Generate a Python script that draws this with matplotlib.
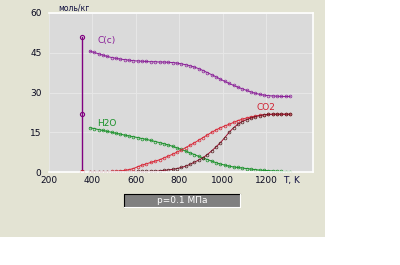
import matplotlib
matplotlib.use("Agg")
import matplotlib.pyplot as plt
from matplotlib.patches import Rectangle

# temperature grid, K
T = list(range(390, 1320, 20))

c_solid = [45.6, 45.1, 44.6, 44.1, 43.6, 43.2, 42.9, 42.6, 42.4, 42.2,
           42.0, 41.9, 41.8, 41.7, 41.6, 41.6, 41.5, 41.5, 41.4, 41.3,
           41.1, 40.8, 40.5, 40.1, 39.6, 39.0, 38.3, 37.5, 36.7, 35.9,
           35.0, 34.2, 33.4, 32.7, 32.0, 31.4, 30.8, 30.2, 29.7, 29.3,
           29.0, 28.8, 28.7, 28.6, 28.5, 28.5, 28.5]
h2o = [16.7, 16.4, 16.0, 15.7, 15.3, 15.0, 14.6, 14.3, 13.9, 13.6,
       13.3, 13.0, 12.6, 12.3, 11.9, 11.5, 11.1, 10.7, 10.2, 9.7,
       9.1, 8.5, 7.9, 7.2, 6.6, 5.9, 5.3, 4.7, 4.1, 3.5,
       3.0, 2.6, 2.2, 1.9, 1.7, 1.5, 1.3, 1.1, 0.9, 0.7,
       0.6, 0.5, 0.4, 0.3, 0.2, 0.1, 0.1]
co2 = [0.0, 0.0, 0.0, 0.1, 0.1, 0.2, 0.3, 0.4, 0.6, 0.9,
       1.3, 2.0, 2.6, 3.1, 3.6, 4.1, 4.6, 5.3, 6.0, 6.7,
       7.5, 8.3, 9.2, 10.1, 11.0, 12.0, 13.0, 14.0, 15.0, 15.9,
       16.7, 17.4, 18.0, 18.7, 19.4, 19.9, 20.4, 20.8, 21.1, 21.4,
       21.6, 21.7, 21.8, 21.8, 21.8, 21.8, 21.8]
co2_b = [0.0, 0.0, 0.0, 0.0, 0.0, 0.0, 0.0, 0.1, 0.1, 0.1,
         0.1, 0.2, 0.2, 0.2, 0.3, 0.3, 0.4, 0.6, 0.8, 1.0,
         1.3, 1.7, 2.2, 2.9, 3.7, 4.5, 5.4, 6.6, 8.0, 9.5,
         11.1, 13.0, 15.0, 16.7, 18.0, 19.0, 19.8, 20.4, 20.9, 21.3,
         21.6, 21.7, 21.8, 21.8, 21.8, 21.8, 21.8]

# initial composition marker line
T0 = 355
init_vals = [0, 22, 51]

fig = plt.figure(figsize=(4, 2.65), dpi=100)
fig.patch.set_facecolor("white")
# beige panel behind everything
bg = fig.add_axes([0, 1 - 237 / 265, 325 / 400, 237 / 265], zorder=-1)
bg.set_facecolor("#e3e3d3")
bg.set_xticks([])
bg.set_yticks([])
for s in bg.spines.values():
    s.set_visible(False)

ax = fig.add_axes([48.5 / 400, 1 - 172 / 265, (313 - 48.5) / 400, (172 - 13) / 265])
ax.set_facecolor("#dadada")
ax.set_xlim(200, 1415)
ax.set_ylim(0, 60)
ax.set_xticks([200, 400, 600, 800, 1000, 1200])
ax.set_yticks([0, 15, 30, 45, 60])
ax.tick_params(length=0, labelsize=6.5, labelcolor="#0a0a20", pad=3)
ax.tick_params(axis="y", pad=5)
ax.grid(True, color="#e6e6e6", lw=0.8)
ax.spines["left"].set_visible(False)
for s in ["top", "right", "bottom"]:
    ax.spines[s].set_color("white")
    ax.spines[s].set_linewidth(1.2)

mk = dict(marker="o", markersize=2.0, markerfacecolor="none", markeredgewidth=0.5, lw=0.7)
ax.plot(T, c_solid, color="#8a2098", **mk)
ax.plot(T, h2o, color="#189028", **mk)
ax.plot(T, co2, color="#d82838", **mk)
ax.plot(T, co2_b, color="#a01030", markeredgecolor="#502020", **mk)

ax.plot([T0, T0], [init_vals[0], init_vals[2]], color="#800080", lw=1)
ax.plot([T0, T0], init_vals[1:], ls="none", marker="o", markersize=3,
        markerfacecolor="none", markeredgecolor="#800080", markeredgewidth=0.8)
ax.plot([T0], [init_vals[0]], ls="none", marker="o", markersize=3,
        markerfacecolor="none", markeredgecolor="#c02030", markeredgewidth=0.8)

ax.text(425, 48.5, "C(c)", color="#8a2098", fontsize=6.5)
ax.text(425, 17.5, "H2O", color="#189028", fontsize=6.5)
ax.text(1200, 23.5, "CO2", color="#d02030", fontsize=6.5, ha="center")

fig.text(58 / 400, 1 - 8 / 265, "моль/кг", fontsize=5.5, color="#101040", va="center")
fig.text(283 / 400, 1 - 180 / 265, "T, K", fontsize=6.5, color="#101040", va="center")

# pressure caption box
fig.patches.append(Rectangle((124 / 400, 1 - 207 / 265), 116 / 400, 13 / 265,
                             transform=fig.transFigure, facecolor="#808080",
                             edgecolor="none", zorder=2))
fig.lines.append(plt.Line2D([124 / 400, 124 / 400, 240 / 400], [1 - 207 / 265, 1 - 194 / 265, 1 - 194 / 265],
                            transform=fig.transFigure, color="black", lw=0.8, zorder=3))
fig.lines.append(plt.Line2D([124 / 400, 240 / 400, 240 / 400], [1 - 207 / 265, 1 - 207 / 265, 1 - 194 / 265],
                            transform=fig.transFigure, color="white", lw=0.8, zorder=3))
fig.text(182 / 400, 1 - 200.5 / 265, "p=0.1 МПа", fontsize=6.5, color="white",
         ha="center", va="center", zorder=4)

fig.savefig("out.png", dpi=100)
